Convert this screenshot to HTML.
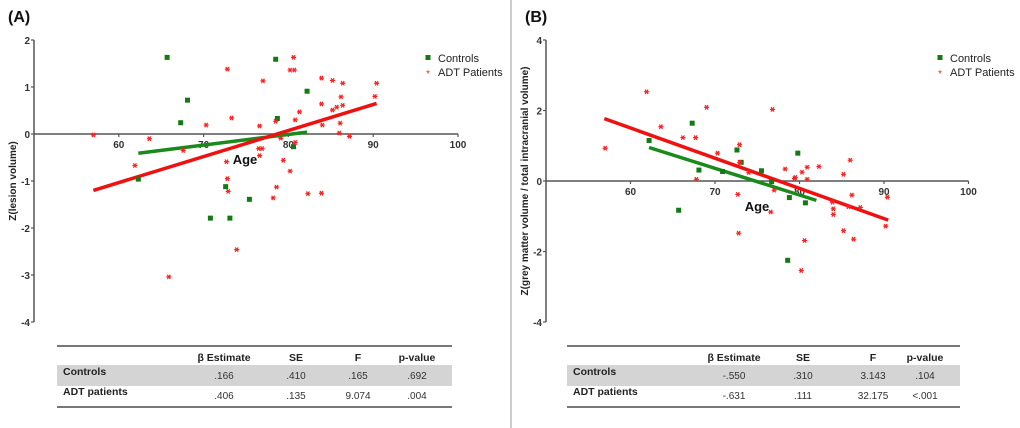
<!DOCTYPE html>
<html><head><meta charset="utf-8"><style>
body{margin:0;background:#fff;width:1020px;height:428px;overflow:hidden;font-family:"Liberation Sans",sans-serif}
svg{position:absolute;left:0;top:0}
</style></head><body>
<svg id="chart" width="1020" height="428"></svg>
<script>
const NS='http://www.w3.org/2000/svg';
// Panel A data
const aCtrlAge=[65.7,78.5,68.1,67.3,82.2,78.7,80.6,62.3,72.6,75.4,70.8,73.1];
const aCtrlZ=[1.63,1.59,0.72,0.24,0.91,0.33,-0.27,-0.96,-1.12,-1.39,-1.79,-1.79];
const aAdtAge=[57.0,61.9,63.6,67.6,70.3,72.8,73.3,72.7,72.8,72.9,73.9,65.9,76.6,77.0,76.5,76.9,76.6,78.5,79.1,79.4,78.6,78.2,80.2,80.6,80.2,80.7,80.8,80.8,81.3,82.3,83.9,83.9,85.2,83.9,84.0,85.2,85.7,86.2,86.4,86.4,86.1,86.0,87.2,90.2,90.4];
const aAdtZ=[-0.02,-0.67,-0.1,-0.35,0.19,1.38,0.34,-0.59,-0.95,-1.22,-2.46,-3.04,0.17,1.13,-0.31,-0.31,-0.46,0.27,-0.09,-0.56,-1.13,-1.36,-0.79,1.63,1.36,1.36,0.3,-0.18,0.47,-1.27,-1.26,1.19,1.14,0.64,0.19,0.51,0.57,0.79,1.08,0.61,0.23,0.02,-0.05,0.80,1.08];
const aCtrlFit=[[62.3,-0.41],[82.2,0.04]];
const aAdtFit=[[57.0,-1.20],[90.4,0.65]];
// Panel B data
const bCtrlAge=[62.2,67.3,72.6,73.1,68.1,70.9,75.5,79.8,78.8,80.7,65.7,78.6,76.7];
const bCtrlZ=[1.15,1.64,0.88,0.53,0.31,0.27,0.29,0.79,-0.47,-0.62,-0.83,-2.25,-0.02];
const bAdtAge=[57.0,61.9,63.6,66.2,67.7,67.8,69.0,70.3,72.9,72.9,72.7,72.8,74.0,76.8,76.6,77.0,78.3,79.4,79.5,80.3,80.9,80.9,80.6,80.2,82.3,83.9,84.0,84.0,85.2,85.2,86.0,86.2,85.8,86.4,87.2,90.2,90.4];
const bAdtZ=[0.93,2.53,1.54,1.23,1.23,0.05,2.09,0.79,1.03,0.53,-0.38,-1.48,0.24,2.03,-0.88,-0.26,0.34,0.07,0.1,0.25,0.39,0.05,-1.69,-2.54,0.41,-0.6,-0.79,-0.95,0.19,-1.41,0.59,-0.4,-0.73,-1.65,-0.75,-1.28,-0.46];
const bCtrlFit=[[62.2,0.95],[82.0,-0.55]];
const bAdtFit=[[56.9,1.77],[90.5,-1.11]];
const xTicks=[60,70,80,90,100];
const aYTicks=[2,1,0,-1,-2,-3,-4];
const bYTicks=[4,2,0,-2,-4];
const tblHead=['β Estimate','SE','F','p-value'];
const aRows=[['Controls','.166','.410','.165','.692'],['ADT patients','.406','.135','9.074','.004']];
const bRows=[['Controls','-.550','.310','3.143','.104'],['ADT patients','-.631','.111','32.175','<.001']];

const svg=document.getElementById('chart');
function el(tag,attrs,parent,text){const e=document.createElementNS(NS,tag);for(const k in attrs)e.setAttribute(k,attrs[k]);if(text!==undefined)e.textContent=text;(parent||svg).appendChild(e);return e;}

function panel(o){
  const g=el('g',{});
  
  
  const sx=a=>o.x0+(a-50)*o.kx, sy=v=>o.y0-v*o.ky;
  const t=el('text',{x:o.lx,y:22,'font-size':16,'font-weight':'bold',fill:'#111'},g,o.label);
  
  
  // y axis
  const ya=el('line',{x1:o.x0,y1:sy(o.yT[0]),x2:o.x0,y2:sy(o.yT[o.yT.length-1]),stroke:'#555','stroke-width':1.5},g);
  
  
  o.yT.forEach(v=>{
    el('line',{x1:o.x0-3,y1:sy(v),x2:o.x0,y2:sy(v),stroke:'#555','stroke-width':1.2},g);
    const l=el('text',{x:o.x0-4,y:sy(v)+4,'font-size':10,'font-weight':'bold','text-anchor':'end',fill:'#333'},g,String(v));
    
    
  });
  const xa=el('line',{x1:o.x0,y1:o.y0,x2:sx(100),y2:o.y0,stroke:'#555','stroke-width':1.5},g);
  
  
  xTicks.forEach(v=>{
    el('line',{x1:sx(v),y1:o.y0,x2:sx(v),y2:o.y0+3,stroke:'#555','stroke-width':1.2},g);
    const l=el('text',{x:sx(v),y:o.y0+14,'font-size':10,'font-weight':'bold','text-anchor':'middle',fill:'#333'},g,String(v));
    
    
  });
  const xt=el('text',{x:o.ageX,y:o.ageY,'font-size':13,'font-weight':'bold','text-anchor':'middle',fill:'#111'},g,'Age');
  
  
  const yt=el('text',{x:0,y:0,'font-size':10,'font-weight':'bold','text-anchor':'middle',fill:'#222',transform:`translate(${o.ytX},181) rotate(-90)`},g,o.ytitle);
  
  
  // lines
  [[o.cf,'#1a8a1a','controls-fit-line'],[o.af,'#f01010','adt-fit-line']].forEach(([f,c,n])=>{
    const ln=el('line',{x1:sx(f[0][0]),y1:sy(f[0][1]),x2:sx(f[1][0]),y2:sy(f[1][1]),stroke:c,'stroke-width':3.5},g);
    
    
  });
  o.ca.forEach((a,i)=>{
    const r=el('rect',{x:sx(a)-2.5,y:sy(o.cz[i])-2.5,width:5,height:5,fill:'#137a13'},g);
    
    
  });
  o.aa.forEach((a,i)=>{
    const cx=sx(a),cy=sy(o.az[i]);
    const s=el('path',{d:`M${cx-2.5},${cy}H${cx+2.5}M${cx-1.5},${cy-2.2}L${cx+1.5},${cy+2.2}M${cx+1.5},${cy-2.2}L${cx-1.5},${cy+2.2}`,stroke:'#ff2020','stroke-width':1.2},g);
    
    
  });
  // legend
  const lg=el('g',{},g);
  
  
  el('rect',{x:o.legX-2.5,y:55,width:5,height:5,fill:'#137a13'},lg);
  el('text',{x:o.legX+10,y:62,'font-size':11,fill:'#222'},lg,'Controls');
  el('text',{x:o.legX,y:77,'font-size':10,fill:'#ff2020','text-anchor':'middle'},lg,'*');
  el('text',{x:o.legX+10,y:76,'font-size':11,fill:'#222'},lg,'ADT Patients');
  // table
  const tb=el('g',{},g);
  
  
  el('rect',{x:o.t0,y:365,width:o.t1-o.t0,height:21,fill:'#d4d4d4'},tb);
  el('line',{x1:o.t0,y1:346,x2:o.t1,y2:346,stroke:'#777','stroke-width':2},tb);
  el('line',{x1:o.t0,y1:407,x2:o.t1,y2:407,stroke:'#777','stroke-width':2},tb);
  tblHead.forEach((h,i)=>el('text',{x:o.cols[i],y:361,'font-size':10.5,'font-weight':'bold','text-anchor':'middle',fill:'#222'},tb,h));
  o.rows.forEach((r,ri)=>{
    const y=ri?398:378;
    el('text',{x:o.t0+6,y:y-3,'font-size':10.5,'font-weight':'bold',fill:'#222'},tb,r[0]);
    for(let i=1;i<5;i++)el('text',{x:o.cols[i-1],y:y+1,'font-size':10,'text-anchor':'middle',fill:'#333'},tb,r[i]);
  });
}
panel({id:'a',label:'(A)',lx:8,x0:34,kx:8.48,y0:134,ky:47,yT:aYTicks,ageX:245,ageY:164,ytX:16,
 ytitle:'Z(lesion volume)',cf:aCtrlFit,af:aAdtFit,ca:aCtrlAge,cz:aCtrlZ,aa:aAdtAge,az:aAdtZ,legX:428,
 t0:57,t1:452,cols:[224,296,358,417],rows:aRows});
panel({id:'b',label:'(B)',lx:525,x0:546,kx:8.45,y0:181,ky:35.25,yT:bYTicks,ageX:757,ageY:211,ytX:528,
 ytitle:'Z(grey matter volume / total intracranial volume)',cf:bCtrlFit,af:bAdtFit,ca:bCtrlAge,cz:bCtrlZ,aa:bAdtAge,az:bAdtZ,legX:940,
 t0:567,t1:960,cols:[734,803,873,925],rows:bRows});
const sep=el('line',{x1:511,y1:0,x2:511,y2:428,stroke:'#aaa','stroke-width':1.2});


</script>
</body></html>
